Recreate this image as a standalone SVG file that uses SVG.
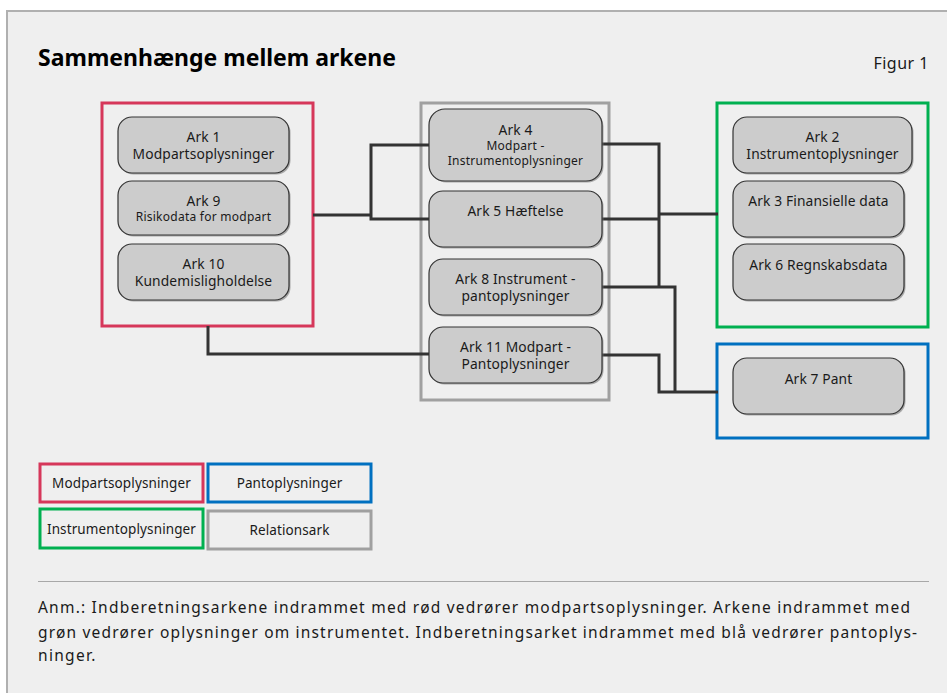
<svg xmlns="http://www.w3.org/2000/svg" width="947" height="693" viewBox="0 0 947 693">
<defs>
<style>
text{font-family:"Noto Sans","Open Sans","DejaVu Sans",sans-serif;fill:#1a1a1a;}
.t{font-size:13.8px;letter-spacing:0.12px;text-anchor:middle;}
.s{font-size:12px;letter-spacing:0.25px;text-anchor:middle;}
.node{fill:#cccccc;stroke:#333333;stroke-width:1.2;}
.shadow{fill:#7a7a7a;opacity:0.6;}
.grp{fill:none;stroke-width:3;}
.red{stroke:#d6375a;}
.green{stroke:#00b050;}
.blue{stroke:#0070c0;}
.gray{stroke:#a0a0a0;}
.conn{fill:none;stroke:#333333;stroke-width:3;}
.note{font-size:15.5px;}
</style>
</defs>
<rect x="7" y="11" width="950" height="700" fill="#efefef" stroke="#b0b0b0" stroke-width="2"/>
<text x="38" y="66" style="font-size:23px;font-weight:bold;fill:#000">Sammenhænge mellem arkene</text>
<text x="929" y="69" style="font-size:16px;letter-spacing:0.5px;text-anchor:end">Figur 1</text>

<g id="group-modpart"><rect class="grp red" x="102" y="103" width="211" height="223"/></g>
<g id="group-relation"><rect class="grp gray" x="421" y="103" width="188" height="297"/></g>
<g id="group-instrument"><rect class="grp green" x="717" y="103" width="211" height="224"/></g>
<g id="group-pant"><rect class="grp blue" x="717" y="344" width="211" height="94"/></g>

<g id="connectors">
<path class="conn" d="M313,215 H371"/>
<path class="conn" d="M429,145 H371 V219 H429"/>
<path class="conn" d="M208,326 V354 H429"/>
<path class="conn" d="M602,144 H659 V287"/>
<path class="conn" d="M602,219 H659"/>
<path class="conn" d="M659,214 H718"/>
<path class="conn" d="M602,287 H675 V392"/>
<path class="conn" d="M602,355 H659 V392 H718"/>
</g>

<g id="ark1"><rect class="shadow" x="119.5" y="118.5" width="171" height="56" rx="14"/><rect class="node" x="118" y="117" width="171" height="56" rx="14"/><text class="t" x="203.5" y="142">Ark 1</text><text class="t" x="203.5" y="159">Modpartsoplysninger</text></g>
<g id="ark9"><rect class="shadow" x="119.5" y="182.5" width="171" height="54" rx="14"/><rect class="node" x="118" y="181" width="171" height="54" rx="14"/><text class="t" x="203.5" y="206">Ark 9</text><text class="s" x="203.5" y="221">Risikodata for modpart</text></g>
<g id="ark10"><rect class="shadow" x="119.5" y="245.5" width="171" height="56" rx="14"/><rect class="node" x="118" y="244" width="171" height="56" rx="14"/><text class="t" x="203.5" y="269">Ark 10</text><text class="t" x="203.5" y="286">Kundemisligholdelse</text></g>

<g id="ark4"><rect class="shadow" x="430.5" y="110.5" width="173" height="72" rx="16"/><rect class="node" x="429" y="109" width="173" height="72" rx="16"/><text class="t" x="515.5" y="135">Ark 4</text><text class="s" x="515.5" y="150">Modpart -</text><text class="s" x="515.5" y="165">Instrumentoplysninger</text></g>
<g id="ark5"><rect class="shadow" x="430.5" y="192.5" width="173" height="56" rx="14"/><rect class="node" x="429" y="191" width="173" height="56" rx="14"/><text class="t" x="515.5" y="216">Ark 5 Hæftelse</text></g>
<g id="ark8"><rect class="shadow" x="430.5" y="260.5" width="173" height="56" rx="14"/><rect class="node" x="429" y="259" width="173" height="56" rx="14"/><text class="t" x="515.5" y="284">Ark 8 Instrument -</text><text class="t" x="515.5" y="301">pantoplysninger</text></g>
<g id="ark11"><rect class="shadow" x="430.5" y="328.5" width="173" height="56" rx="14"/><rect class="node" x="429" y="327" width="173" height="56" rx="14"/><text class="t" x="515.5" y="352">Ark 11 Modpart -</text><text class="t" x="515.5" y="369">Pantoplysninger</text></g>

<g id="ark2"><rect class="shadow" x="734.5" y="118.5" width="179" height="56" rx="14"/><rect class="node" x="733" y="117" width="179" height="56" rx="14"/><text class="t" x="822.5" y="142">Ark 2</text><text class="t" x="822.5" y="159">Instrumentoplysninger</text></g>
<g id="ark3"><rect class="shadow" x="734.5" y="182.5" width="171" height="56" rx="14"/><rect class="node" x="733" y="181" width="171" height="56" rx="14"/><text class="t" x="818.5" y="206">Ark 3 Finansielle data</text></g>
<g id="ark6"><rect class="shadow" x="734.5" y="245.5" width="171" height="56" rx="14"/><rect class="node" x="733" y="244" width="171" height="56" rx="14"/><text class="t" x="818.5" y="270">Ark 6 Regnskabsdata</text></g>
<g id="ark7"><rect class="shadow" x="734.5" y="359.5" width="171" height="56" rx="14"/><rect class="node" x="733" y="358" width="171" height="56" rx="14"/><text class="t" x="818.5" y="384">Ark 7 Pant</text></g>

<g id="legend">
<rect class="grp red" x="40" y="464" width="163" height="38"/><text class="t" x="121.5" y="488" style="font-size:13.5px">Modpartsoplysninger</text>
<rect class="grp blue" x="208" y="464" width="163" height="38"/><text class="t" x="289.5" y="488" style="font-size:13.5px">Pantoplysninger</text>
<rect class="grp green" x="40" y="509" width="163" height="39"/><text class="t" x="121.5" y="534" style="font-size:13.5px">Instrumentoplysninger</text>
<rect class="grp gray" x="208" y="511" width="163" height="38"/><text class="t" x="289.5" y="535" style="font-size:13.5px">Relationsark</text>
</g>

<line x1="38" y1="581.5" x2="929" y2="581.5" stroke="#a8a8a8" stroke-width="1.2"/>
<text class="note" x="38" y="613" textLength="872" lengthAdjust="spacing">Anm.: Indberetningsarkene indrammet med rød vedrører modpartsoplysninger. Arkene indrammet med</text>
<text class="note" x="38" y="638" textLength="879" lengthAdjust="spacing">grøn vedrører oplysninger om instrumentet. Indberetningsarket indrammet med blå vedrører pantoplys-</text>
<text class="note" x="38" y="661" style="letter-spacing:1.3px">ninger.</text>
</svg>
